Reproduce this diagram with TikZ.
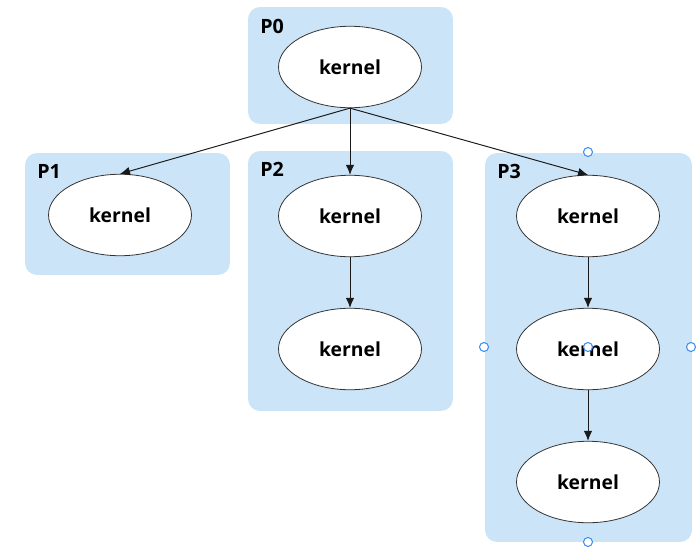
\documentclass[tikz,border=0pt]{standalone}
\usepackage{fontspec}
\setmainfont{Open Sans}
\usetikzlibrary{arrows.meta, shapes.geometric}
\definecolor{groupblue}{HTML}{CCE4F7}
\definecolor{handleblue}{HTML}{3D8FF0}
\begin{document}
\begin{tikzpicture}[x=0.02cm, y=-0.02cm]
    \tikzstyle{group} = [fill=groupblue, rounded corners=0.24cm, inner sep=0]
    \tikzstyle{kern} = [draw=black!80, line width=0.45pt, fill=white, ellipse, minimum width=2.86cm, minimum height=1.63cm, inner sep=0, font=\bfseries\fontsize{11}{12}\selectfont]
    \tikzstyle{plabel} = [anchor=base west, inner sep=0, font=\bfseries\fontsize{11.2}{12}\selectfont]
    \tikzstyle{la} = [-{Latex[length=2mm, width=1.7mm]}, line width=0.55pt, black!90]
    \tikzstyle{handle} = [draw=handleblue, fill=white, circle, line width=0.6pt, minimum size=0.18cm, inner sep=0]
    \useasboundingbox (0,0) rectangle (700,551);
    % groups
    \node[group, minimum width=4.1cm, minimum height=2.34cm] (g0) at (350.5, 65.5) {};
    \node[group, minimum width=4.1cm, minimum height=2.44cm] (g1) at (127.5, 214) {};
    \node[group, minimum width=4.1cm, minimum height=5.2cm] (g2) at (350.5, 281) {};
    \node[group, minimum width=4.14cm, minimum height=7.78cm] (g3) at (588.5, 347.5) {};
    \node[plabel] (p0) at (260, 33) {P0};
    \node[plabel] (p1) at (37, 178) {P1};
    \node[plabel] (p2) at (260, 176) {P2};
    \node[plabel] (p3) at (497, 178) {P3};
    % kernels
    \node[kern] (k0) at (350, 67) {kernel};
    \node[kern] (k1) at (120, 215) {kernel};
    \node[kern] (k2a) at (350, 216) {kernel};
    \node[kern] (k2b) at (350, 349) {kernel};
    \node[kern] (k3a) at (588, 216) {kernel};
    \node[kern] (k3b) at (588, 349) {kernel};
    \node[kern] (k3c) at (588, 482) {kernel};
    \draw[la] (k0.south) -- (k1.north);
    \draw[la] (k0.south) -- (k2a.north);
    \draw[la] (k0.south) -- (k3a.north);
    \draw[la] (k2a) -- (k2b);
    \draw[la] (k3a) -- (k3b);
    \draw[la] (k3b) -- (k3c);
    % selection handles
    \node[handle] (hn) at (588, 152) {};
    \node[handle] (hw) at (484, 347) {};
    \node[handle] (he) at (691, 347) {};
    \node[handle] (hs) at (588, 542) {};
    \node[handle] (hc) at (588, 347) {};
\end{tikzpicture}
\end{document}
